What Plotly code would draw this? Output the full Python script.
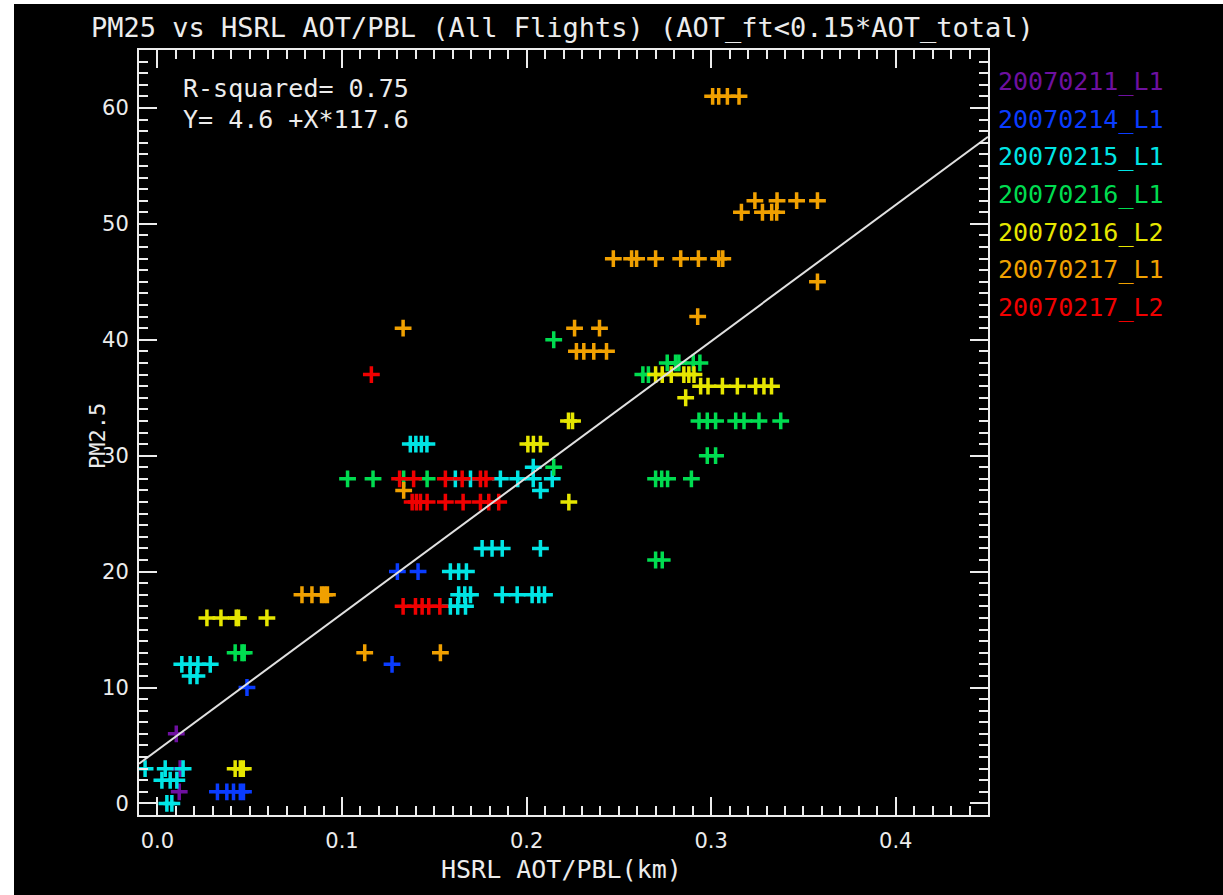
import plotly.graph_objects as go

# flight labels and their colours (IDL rainbow-ish)
flights = ["20070211_L1", "20070214_L1", "20070215_L1", "20070216_L1",
           "20070216_L2", "20070217_L1", "20070217_L2"]
colors = ["#6E10A0", "#0A3CFF", "#00E5E5", "#00DC50",
          "#E6E600", "#F0A000", "#F00000"]

# 20070211_L1
x_0211_l1 = [0.0123, 0.0118, 0.0102]
y_0211_l1 = [3, 1, 6]

# 20070214_L1
x_0214_l1 = [0.0325, 0.0376, 0.0412, 0.0449, 0.0466, 0.0485, 0.1271, 0.1300, 0.1412]
y_0214_l1 = [1, 1, 1, 1, 1, 10, 12, 20, 20]

# 20070215_L1
x_0215_l1 = [-0.0067, 0.0042, 0.0139,
             0.0024, 0.0069, 0.0105,
             0.0051, 0.0078,
             0.0132, 0.0177, 0.0219, 0.0286,
             0.0177, 0.0214,
             0.1370, 0.1400, 0.1430, 0.1460,
             0.1614, 0.1696, 0.1858, 0.1952, 0.2036, 0.2139,
             0.2036, 0.2075,
             0.1759, 0.1813, 0.1868, 0.2075,
             0.1587, 0.1632, 0.1674,
             0.1632, 0.1665, 0.1696, 0.1868, 0.1949, 0.2030, 0.2066, 0.2097,
             0.1587, 0.1627, 0.1669]
y_0215_l1 = [3, 3, 3,
             2, 2, 2,
             0, 0,
             12, 12, 12, 12,
             11, 11,
             31, 31, 31, 31,
             28, 28, 28, 28, 28, 28,
             29, 27,
             22, 22, 22, 22,
             20, 20, 20,
             18, 18, 18, 18, 18, 18, 18, 18,
             17, 17, 17]

# 20070216_L1
x_0216_l1 = [0.0421, 0.0458, 0.0470,
             0.1030, 0.1168, 0.1334, 0.1461,
             0.2147, 0.2147,
             0.2762, 0.2807, 0.2825, 0.2903, 0.2939,
             0.2630, 0.2660,
             0.2934, 0.2979, 0.3024, 0.3133, 0.3178, 0.3259, 0.3377,
             0.2979, 0.3024,
             0.2699, 0.2732, 0.2764, 0.2893,
             0.2699, 0.2735]
y_0216_l1 = [13, 13, 13,
             28, 28, 28, 28,
             29, 40,
             38, 38, 38, 38, 38,
             37, 37,
             33, 33, 33, 33, 33, 33, 33,
             30, 30,
             28, 28, 28, 28,
             21, 21]

# 20070216_L2
x_0216_l2 = [0.0421, 0.0449, 0.0465,
             0.0268, 0.0344, 0.0427, 0.0439, 0.0593,
             0.2227, 0.2249,
             0.2007, 0.2037, 0.2075,
             0.2229,
             0.2699, 0.2735, 0.2784, 0.2852, 0.2879, 0.2907,
             0.2943, 0.2983, 0.3061, 0.3142, 0.3241, 0.3286, 0.3327,
             0.2862]
y_0216_l2 = [3, 3, 3,
             16, 16, 16, 16, 16,
             33, 33,
             31, 31, 31,
             26,
             37, 37, 37, 37, 37, 37,
             36, 36, 36, 36, 36, 36, 36,
             35]

# 20070217_L1
x_0217_l1 = [0.0783, 0.0837, 0.0889, 0.0905, 0.0921,
             0.1123, 0.1533,
             0.1334,
             0.1331, 0.2260, 0.2395,
             0.2927,
             0.2270, 0.2310, 0.2364, 0.2433,
             0.2470, 0.2569, 0.2596, 0.2699, 0.2835, 0.2931, 0.3041, 0.3063,
             0.3008, 0.3041, 0.3088, 0.3151,
             0.3237, 0.3357, 0.3463, 0.3576,
             0.3164, 0.3278, 0.3328, 0.3355,
             0.3576]
y_0217_l1 = [18, 18, 18, 18, 18,
             13, 13,
             27,
             41, 41, 41,
             42,
             39, 39, 39, 39,
             47, 47, 47, 47, 47, 47, 47, 47,
             61, 61, 61, 61,
             52, 52, 52, 52,
             51, 51, 51, 51,
             45]

# 20070217_L2
x_0217_l2 = [0.1159,
             0.1312, 0.1388, 0.1560, 0.1651, 0.1750, 0.1780,
             0.1380, 0.1403, 0.1425, 0.1461, 0.1560, 0.1656, 0.1750, 0.1795, 0.1849,
             0.1331, 0.1398, 0.1434, 0.1470, 0.1530]
y_0217_l2 = [37,
             28, 28, 28, 28, 28, 28,
             26, 26, 26, 26, 26, 26, 26, 26, 26,
             17, 17, 17, 17, 17]

# linear fit printed on the plot
fit_intercept = 4.6
fit_slope = 117.6
r_squared = 0.75

x_range = [-0.01, 0.45]
y_range = [-1, 65]

series = [
    (flights[0], colors[0], x_0211_l1, y_0211_l1),
    (flights[1], colors[1], x_0214_l1, y_0214_l1),
    (flights[2], colors[2], x_0215_l1, y_0215_l1),
    (flights[3], colors[3], x_0216_l1, y_0216_l1),
    (flights[4], colors[4], x_0216_l2, y_0216_l2),
    (flights[5], colors[5], x_0217_l1, y_0217_l1),
    (flights[6], colors[6], x_0217_l2, y_0217_l2),
]

# IDL's vector font is wide, a mono font gets the same text widths
FONT = "DejaVu Sans Mono"
TICK_FONT = "DejaVu Sans"
FG = "#ECECEC"

fig = go.Figure()

for name, col, xs, ys in series:
    fig.add_trace(go.Scatter(
        x=xs, y=ys, mode="markers", name=name,
        marker=dict(symbol="cross-thin", size=12, color=col,
                    line=dict(color=col, width=3.5)),
    ))

# regression line across the whole x range
fit_x = x_range
fit_y = [fit_intercept + fit_slope * v for v in fit_x]
fig.add_trace(go.Scatter(x=fit_x, y=fit_y, mode="lines",
                         line=dict(color="#E0E0E0", width=2),
                         showlegend=False))

# plot area in pixels: left 139, right 988, top 50, bottom 815
L, R, T, B = 139, 988, 50, 815
def px(x):
    return (x - L) / (R - L)
def py(y):
    return (B - y) / (B - T)

annotations = [
    dict(text=f"R-squared= {r_squared:.2f}", x=px(181), y=py(88),
         xanchor="left", yanchor="middle", font=dict(size=25)),
    dict(text=f"Y= {fit_intercept:.1f} +X*{fit_slope:.1f}", x=px(181), y=py(119),
         xanchor="left", yanchor="middle", font=dict(size=25)),
    dict(text="HSRL AOT/PBL(km)", x=px(561), y=py(869),
         xanchor="center", yanchor="middle", font=dict(size=25)),
    dict(text="PM2.5", x=px(97), y=py(436), textangle=-90,
         xanchor="center", yanchor="middle", font=dict(size=22)),
    dict(text="PM25 vs HSRL AOT/PBL (All Flights) (AOT_ft<0.15*AOT_total)",
         x=px(562), y=py(28), xanchor="center", yanchor="middle",
         font=dict(size=27)),
]
# legend drawn as coloured labels
for i, (name, col, _, _) in enumerate(series):
    annotations.append(dict(text=name, x=px(996), y=py(82 + 37.5 * i),
                            xanchor="left", yanchor="middle",
                            font=dict(size=25, color=col)))
for a in annotations:
    a.update(xref="paper", yref="paper", showarrow=False)
    a["font"].setdefault("color", FG)
    a["font"]["family"] = FONT

axis_common = dict(
    showline=True, linecolor=FG, linewidth=2, mirror="allticks",
    ticks="inside", ticklen=18, tickwidth=2, tickcolor=FG,
    showgrid=False, zeroline=False,
    tickfont=dict(family=TICK_FONT, size=21, color=FG),
)

fig.update_xaxes(range=x_range, tick0=0, dtick=0.1, tickformat=".1f",
                 minor=dict(dtick=0.01, ticks="inside", ticklen=9,
                            tickwidth=1.5, tickcolor=FG, showgrid=False),
                 ticklabelstandoff=6, **axis_common)
fig.update_yaxes(range=y_range, tick0=0, dtick=10,
                 minor=dict(dtick=1, ticks="inside", ticklen=9,
                            tickwidth=1.5, tickcolor=FG, showgrid=False),
                 ticklabelstandoff=4, **axis_common)

fig.update_layout(
    width=1223, height=895,
    margin=dict(l=L, r=1223 - R, t=T, b=895 - B),
    paper_bgcolor="black", plot_bgcolor="black",
    showlegend=False,
    annotations=annotations,
    shapes=[
        # thin white strips at the left and top edge of the scanned image
        dict(type="rect", xref="paper", yref="paper", x0=px(-10), x1=px(14),
             y0=py(900), y1=py(-10), fillcolor="white", line_width=0, layer="below"),
        dict(type="rect", xref="paper", yref="paper", x0=px(-10), x1=px(1230),
             y0=py(4), y1=py(-10), fillcolor="white", line_width=0, layer="below"),
    ],
)

# drop the default body margin so the figure fills the window exactly
fig.write_html("out.html", config={"displayModeBar": False},
               post_script="document.body.style.margin='0';")
